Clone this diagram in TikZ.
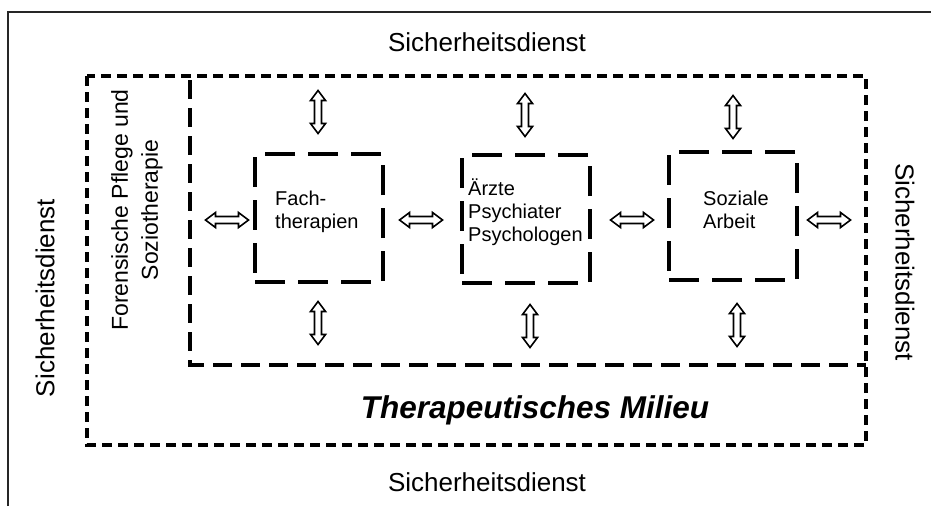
\documentclass[tikz,border=0pt]{standalone}
\usepackage{fontspec}
\setmainfont{Liberation Sans}
\usetikzlibrary{calc}
\begin{document}
\begin{tikzpicture}[x=1pt,y=-1pt,
 lbl/.style={font=\fontsize{26}{30}\selectfont, inner sep=0},
 outerdash/.style={line width=3.4pt, dash pattern=on 10pt off 6pt},
 innerdash/.style={line width=3.4pt, dash pattern=on 19pt off 9pt},
 unitbox/.style={draw, line width=4pt, dash pattern=on 30pt off 13pt, minimum width=128pt, minimum height=128pt, inner sep=0},
 unittext/.style={font=\fontsize{20}{23}\selectfont, align=left, inner sep=0},
 dbla/.pic={\draw[line width=1.6pt, line join=miter, fill=white]
   (-21.5,0) -- (-11.5,-7.5) -- (-11.5,-3.5) -- (11.5,-3.5) -- (11.5,-7.5) -- (21.5,0)
   -- (11.5,7.5) -- (11.5,3.5) -- (-11.5,3.5) -- (-11.5,7.5) -- cycle;},
]
\fill[white] (0,0) rectangle (931,506);
\useasboundingbox (0,0) rectangle (931,506);
% frame of the page
\draw[line width=2.5pt, black!85] (8,506) -- (8,12) -- (931,12);
% outer dashed rectangle
\draw[outerdash] (87,76) rectangle (866,445);
% inner milieu border
\draw[innerdash] (190,80) -- (190,365) -- (866,365);
% labels
\node[lbl] (secT) at (487,42) {Sicherheitsdienst};
\node[lbl] (secB) at (487,482) {Sicherheitsdienst};
\node[lbl, rotate=90] (secL) at (45,298) {Sicherheitsdienst};
\node[lbl, rotate=-90] (secR) at (905,262) {Sicherheitsdienst};
\node[font=\fontsize{23}{30}\selectfont, align=center, rotate=90, inner sep=0] (fps) at (137,210) {Forensische Pflege und\\Soziotherapie};
\node[font=\fontsize{31.5}{36}\selectfont\bfseries\itshape, inner sep=0] (milieu) at (535,410) {Therapeutisches Milieu};
% unit boxes
\node[unitbox] (fach) at (319,218) {};
\node[unitbox] (aerzte) at (526,219) {};
\node[unitbox] (sozial) at (733,216) {};
\node[unittext, anchor=north west] (tfach) at (275,191) {Fach-\\therapien};
\node[unittext, anchor=north west] (taerzte) at (468,179) {Ärzte\\Psychiater\\Psychologen};
\node[unittext, anchor=north west] (tsozial) at (703,191) {Soziale\\Arbeit};
% horizontal arrows
\pic (h1) at (227,220) {dbla};
\pic (h2) at (421,220) {dbla};
\pic (h3) at (632,220) {dbla};
\pic (h4) at (829,220) {dbla};
% vertical arrows
\pic[rotate=90] (v1) at (318,112) {dbla};
\pic[rotate=90] (v2) at (525,115) {dbla};
\pic[rotate=90] (v3) at (733,117) {dbla};
\pic[rotate=90] (v4) at (318,323) {dbla};
\pic[rotate=90] (v5) at (530,326) {dbla};
\pic[rotate=90] (v6) at (737,325) {dbla};
\end{tikzpicture}
\end{document}
